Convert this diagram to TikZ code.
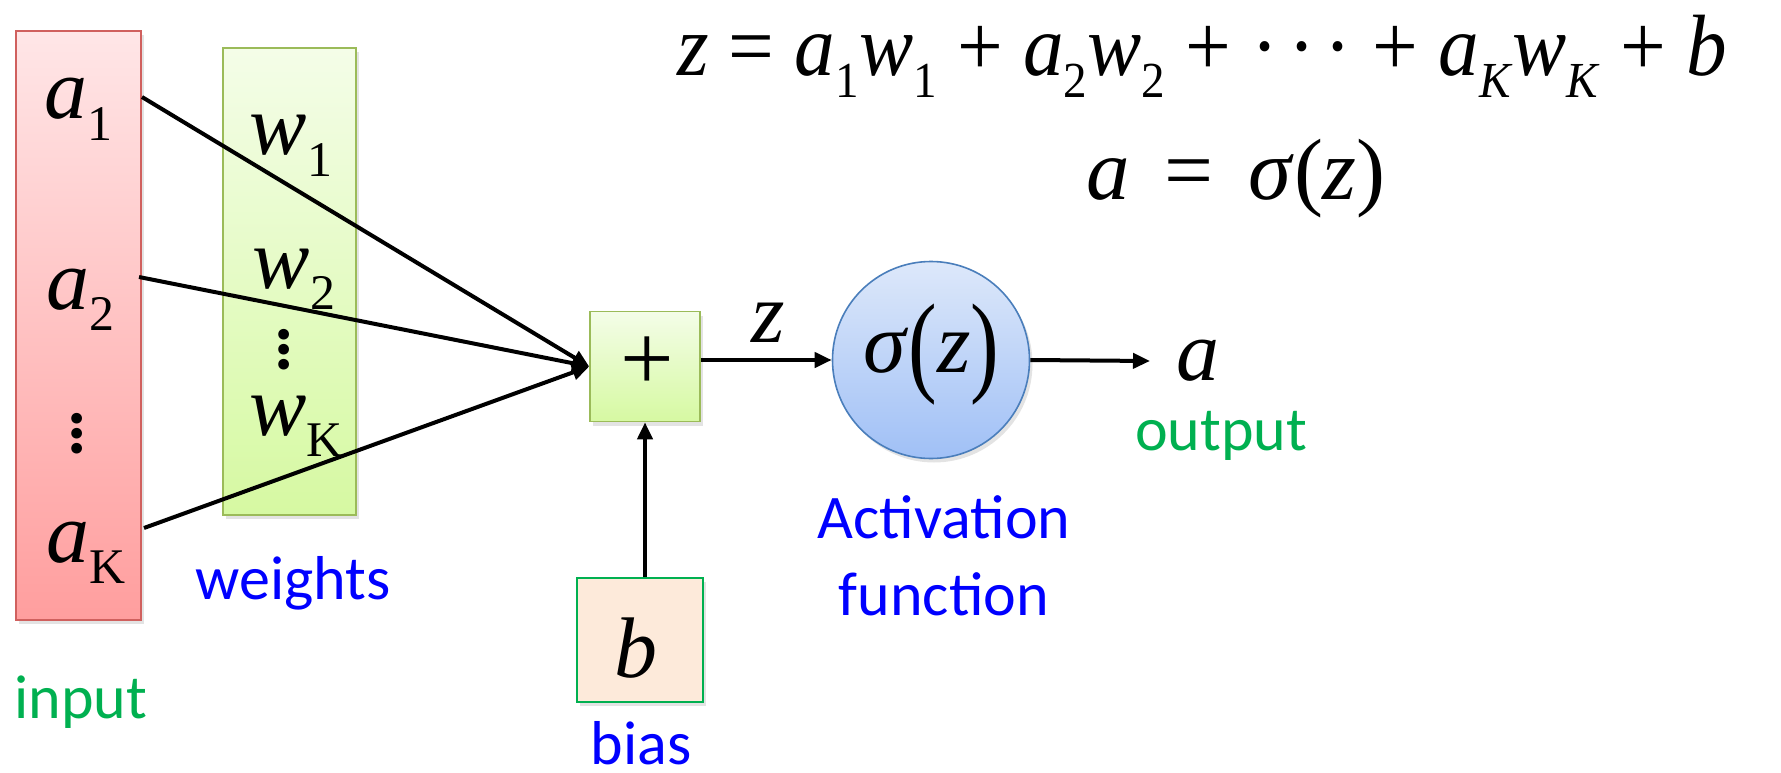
\documentclass[tikz,border=0pt]{standalone}
\usepackage{fontspec}
\usepackage{graphicx}
\setmainfont{Liberation Serif}
\newfontfamily\calfont{Carlito}
\usetikzlibrary{shapes.geometric,arrows.meta,shadows}
\definecolor{redtop}{HTML}{FFE6E7}
\definecolor{redbot}{HTML}{FF9E9E}
\definecolor{redline}{HTML}{D0605E}
\definecolor{grtop}{HTML}{F4FDE8}
\definecolor{grbot}{HTML}{D6F9A2}
\definecolor{grline}{HTML}{9BBB59}
\definecolor{bltop}{HTML}{DDE8FA}
\definecolor{blbot}{HTML}{A0C0F6}
\definecolor{blline}{HTML}{4A7EBB}
\definecolor{peach}{HTML}{FDEADA}
\definecolor{labgreen}{HTML}{00B050}
\definecolor{labblue}{HTML}{0000FF}
\newcommand\sbs[1]{\raisebox{-0.25em}{\scalebox{0.58}{#1}}}
\newcommand\iv[1]{\textit{#1}}
\newcommand\mlab{\fontsize{86}{90}\selectfont}
\newcommand\formfont{\fontsize{87}{90}\selectfont}
\newcommand\tallpar[1]{\raisebox{-9pt}{\scalebox{1}[1.3]{#1}}}
\newcommand\mydots{\vbox{\baselineskip=15pt\lineskiplimit=-100pt\lineskip=0pt\hbox{.}\hbox{.}\hbox{.}}}
\tikzset{
  shbox/.style={inner sep=0pt, line width=1.6pt,
    drop shadow={opacity=0.22, shadow xshift=3pt, shadow yshift=-4pt}},
  redbox/.style={shbox, draw=redline, top color=redtop, bottom color=redbot},
  greenbox/.style={shbox, draw=grline, top color=grtop, bottom color=grbot},
  bluecirc/.style={shbox, circle, draw=blline, top color=bltop, bottom color=blbot},
  biasbox/.style={shbox, draw=labgreen, fill=peach},
  mathlab/.style={inner sep=0pt, font=\mlab},
  sanslab/.style={inner sep=0pt, font=\calfont\fontsize{62}{71}\selectfont, align=center},
  dotlab/.style={inner sep=0pt, font=\calfont\bfseries\fontsize{72}{72}\selectfont},
  conn/.style={line width=4pt, -{Triangle[length=17pt,width=15pt]}}
}
\begin{document}
\begin{tikzpicture}[x=1pt,y=-1pt]
\useasboundingbox (0,0) rectangle (1781,773);
% boxes
\node[redbox, minimum width=125pt, minimum height=589pt] (inp) at (78.5,325.5) {};
\node[greenbox, minimum width=133pt, minimum height=467pt] (wts) at (289.5,281.5) {};
\node[greenbox, minimum width=110pt, minimum height=110pt] (plus) at (645,366.5) {};
\node[bluecirc, minimum size=197pt] (act) at (931,360) {};
\node[biasbox, minimum width=126pt, minimum height=124pt] (bias) at (640,640) {};
% input labels
\node[mathlab, anchor=base] (a1) at (78,119) {\iv{a}\sbs{1}};
\node[mathlab, anchor=base] (a2) at (80,309) {\iv{a}\sbs{2}};
\node[dotlab] (adots) at (77,434) {\mydots};
\node[mathlab, anchor=base] (aK) at (86,562) {\iv{a}\sbs{K}};
% weight labels
\node[mathlab, anchor=base] (w1) at (291,155) {\iv{w}\sbs{1}};
\node[mathlab, anchor=base] (w2) at (294,288) {\iv{w}\sbs{2}};
\node[dotlab] (wdots) at (284,350) {\mydots};
\node[mathlab, anchor=base] (wK) at (296,435) {\iv{w}\sbs{K}};
% plus, sigma, bias
\node[inner sep=0pt, font=\fontsize{95}{95}\selectfont] (plustxt) at (647,364) {+};
\node[mathlab, anchor=base] (sig) at (931.5,372) {\iv{σ}\tallpar{(}\iv{z}\tallpar{)}};
\node[mathlab, anchor=base] (btxt) at (636,677) {\iv{b}};
\node[mathlab, anchor=base] (zlab) at (768,342) {\iv{z}};
\node[mathlab, anchor=base] (alab) at (1198,380) {\iv{a}};
% connectors
\coordinate (s1) at (142,97);
\coordinate (s2) at (139,277);
\coordinate (sK) at (144,528);
\coordinate (outend) at (1150,361);
\draw[conn] (s1) -- (plus.west);
\draw[conn] (s2) -- (plus.west);
\draw[conn] (sK) -- (plus.west);
\draw[conn] (plus.east |- act.west) -- (act.west);
\draw[conn] (act.east) -- (outend);
\draw[conn] (bias.north -| plus.south) -- (plus.south);
% sans labels
\node[sanslab, anchor=base, text=labgreen] (inlab) at (81,718) {input};
\node[sanslab, anchor=base, text=labblue] (wlab) at (293,599) {weights};
\node[sanslab, anchor=base, text=labblue] (blab) at (641,764) {bias};
\node[sanslab, anchor=base, text=labgreen] (olab) at (1221,450) {output};
\node[sanslab, anchor=base, text=labblue] (aflab1) at (944,538) {Activation};
\node[sanslab, anchor=base, text=labblue] (aflab2) at (944,615) {function};
% formulas
\node[inner sep=0pt, anchor=base] (eq1) at (1202,76) {\resizebox{1050pt}{\height}{\formfont\iv{z} = \iv{a}\sbs{1}\iv{w}\sbs{1} + \iv{a}\sbs{2}\iv{w}\sbs{2} + ·\hspace{0.12em}·\hspace{0.12em}· + \iv{a}\sbs{\iv{K}}\iv{w}\sbs{\iv{K}} + \iv{b}}};
\node[inner sep=0pt, anchor=base, font=\formfont] (eq2) at (1236,199) {\iv{a}\hspace{0.4em}=\hspace{0.4em}\iv{σ}(\iv{z})};
\end{tikzpicture}
\end{document}
